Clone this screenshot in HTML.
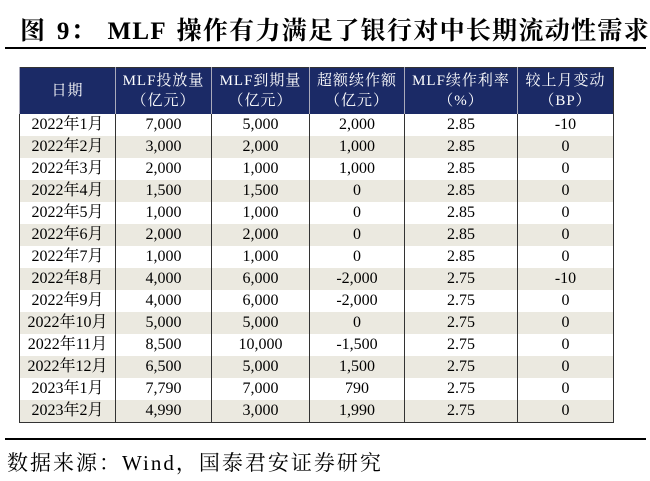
<!DOCTYPE html>
<html><head><meta charset="utf-8"><style>
body{margin:0;width:650px;height:481px;background:#fff;position:relative;overflow:hidden;font-family:"Liberation Serif","Noto Serif CJK SC",serif;}
#title{position:absolute;left:20px;top:11px;font-size:25px;font-weight:bold;letter-spacing:1.3px;word-spacing:3px;white-space:nowrap;color:#000}
.hr{position:absolute;left:5px;width:641px;height:2px;background:#000}
table{position:absolute;left:19px;top:67px;border-collapse:collapse;table-layout:fixed;width:594px;border:1px solid #333}
th{background:#1b2a66;color:#fff;font-weight:normal;font-size:15px;line-height:20px;height:46px;border-left:1px solid #aab;padding:0;letter-spacing:1px}
td{font-size:16px;height:22px;padding:0;text-align:center;border-left:1px solid #333;color:#000;line-height:22px}
tr.a td{background:#fff}tr.b td{background:#ebe9e0}
#src{position:absolute;left:7px;top:447px;font-size:21px;letter-spacing:2px;white-space:nowrap}
</style></head><body>
<div id="title">图 9： MLF 操作有力满足了银行对中长期流动性需求</div>
<div class="hr" style="top:47px"></div>
<table>
<colgroup><col style="width:96px"><col style="width:96px"><col style="width:98px"><col style="width:95px"><col style="width:113px"><col style="width:96px"></colgroup>
<thead><tr>
<th>日期</th>
<th>MLF投放量<br>（亿元）</th>
<th>MLF到期量<br>（亿元）</th>
<th>超额续作额<br>（亿元）</th>
<th>MLF续作利率<br>（%）</th>
<th>较上月变动<br>（BP）</th>
</tr></thead>
<tbody id="tb"></tbody></table>
<div class="hr" style="top:438px;height:1.5px"></div>
<div id="src">数据来源：Wind，国泰君安证券研究</div>
<script>
const dates=["2022年1月","2022年2月","2022年3月","2022年4月","2022年5月","2022年6月","2022年7月","2022年8月","2022年9月","2022年10月","2022年11月","2022年12月","2023年1月","2023年2月"];
const issue=["7,000","3,000","2,000","1,500","1,000","2,000","1,000","4,000","4,000","5,000","8,500","6,500","7,790","4,990"];
const maturity=["5,000","2,000","1,000","1,500","1,000","2,000","1,000","6,000","6,000","5,000","10,000","5,000","7,000","3,000"];
const excess=["2,000","1,000","1,000","0","0","0","0","-2,000","-2,000","0","-1,500","1,500","790","1,990"];
const rate=["2.85","2.85","2.85","2.85","2.85","2.85","2.85","2.75","2.75","2.75","2.75","2.75","2.75","2.75"];
const change=["-10","0","0","0","0","0","0","-10","0","0","0","0","0","0"];
const tb=document.getElementById('tb');
dates.forEach((d,i)=>{
const tr=document.createElement('tr');
tr.className=i%2?'b':'a';


[d,issue[i],maturity[i],excess[i],rate[i],change[i]].forEach((v,j)=>{
const td=document.createElement('td');
td.textContent=v;


tr.appendChild(td);});
tb.appendChild(tr);});
</script>
</body></html>
